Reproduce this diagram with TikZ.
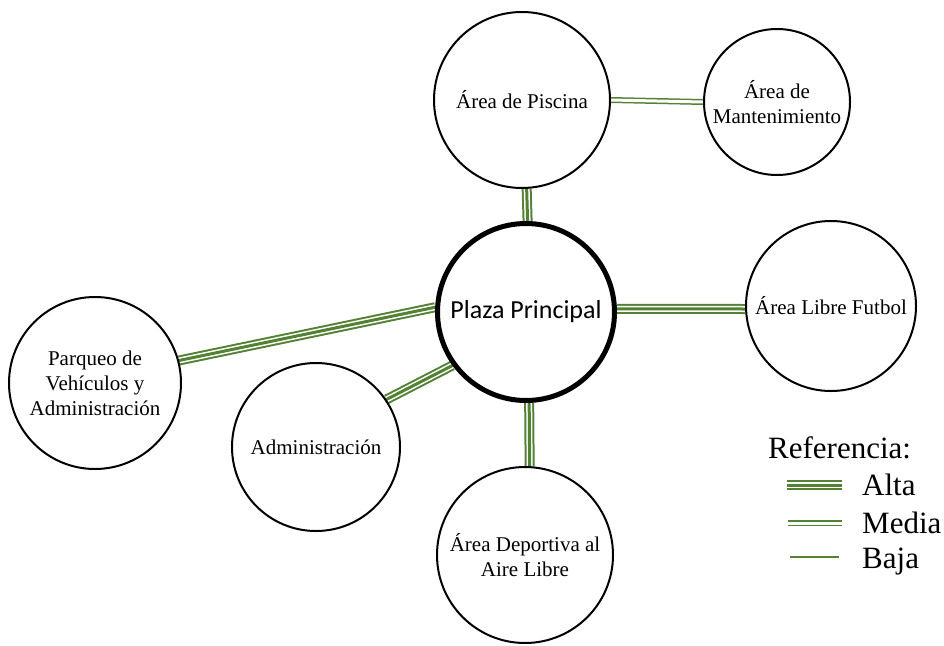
\documentclass[tikz,border=0pt]{standalone}
\usepackage{fontspec}
\setmainfont{Liberation Serif}
\newfontfamily\calfont{Carlito}
\usetikzlibrary{backgrounds}
\definecolor{lgreen}{RGB}{84,130,53}
\tikzset{
  area/.style={circle, draw=black, line width=2pt, fill=white, align=center,
    inner sep=0pt, font=\fontsize{21}{25}\selectfont},
  plazastyle/.style={area, line width=5pt, font=\calfont\fontsize{26}{30}\selectfont},
  alta/.style={preaction={draw=lgreen, line width=10pt},
    preaction={draw=white, line width=6pt}, draw=lgreen, line width=3pt},
  media/.style={draw=lgreen, line width=1.5pt, double=white, double distance=3pt},
  baja/.style={draw=lgreen, line width=1.5pt},
  legtext/.style={anchor=base west, inner sep=0pt, font=\fontsize{31}{35}\selectfont}
}
\begin{document}
\begin{tikzpicture}[x=1pt, y=-1pt]
\useasboundingbox (0,0) rectangle (944,645);
% circles
\node[area, minimum size=176pt] (pis) at (522,100) {Área de Piscina};
\node[area, minimum size=146pt] (mant) at (777,102) {Área de\\Mantenimiento};
\node[plazastyle, minimum size=177pt] (plaza) at (526,312) {Plaza Principal};
\node[area, minimum size=170pt] (fut) at (831,306) {Área Libre Futbol};
\node[area, minimum size=172pt] (parq) at (95,383) {Parqueo de\\Vehículos y\\Administración};
\node[area, minimum size=168pt] (adm) at (316,447) {Administración};
\node[area, minimum size=176pt] (dep) at (525,555) {Área Deportiva al\\Aire Libre};
% legend
\node[legtext] (ref) at (768,458) {Referencia:};
\node[legtext] (lalta) at (862,495) {Alta};
\node[legtext] (lmedia) at (862,533) {Media};
\node[legtext] (lbaja) at (862,568) {Baja};
\coordinate (a1) at (787,485); \coordinate (a2) at (842,485);
\coordinate (m1) at (788,523); \coordinate (m2) at (842,523);
\coordinate (b1) at (790,557); \coordinate (b2) at (839,557);
\path[alta] (a1) -- (a2);
\path[media] (m1) -- (m2);
\path[baja] (b1) -- (b2);
% connectors
\begin{scope}[on background layer]
\fill[white] (0,0) rectangle (944,645);
\path[alta] (pis.-87) -- (plaza.89);
\path[media] (pis.east) -- (mant.west);
\path[alta] (plaza.2) -- (fut.182);
\path[alta] (parq.15) -- (plaza.177);
\path[alta] (adm.34) -- (plaza.216);
\path[alta] (plaza.-88) -- (dep.87);
\end{scope}
\end{tikzpicture}
\end{document}
